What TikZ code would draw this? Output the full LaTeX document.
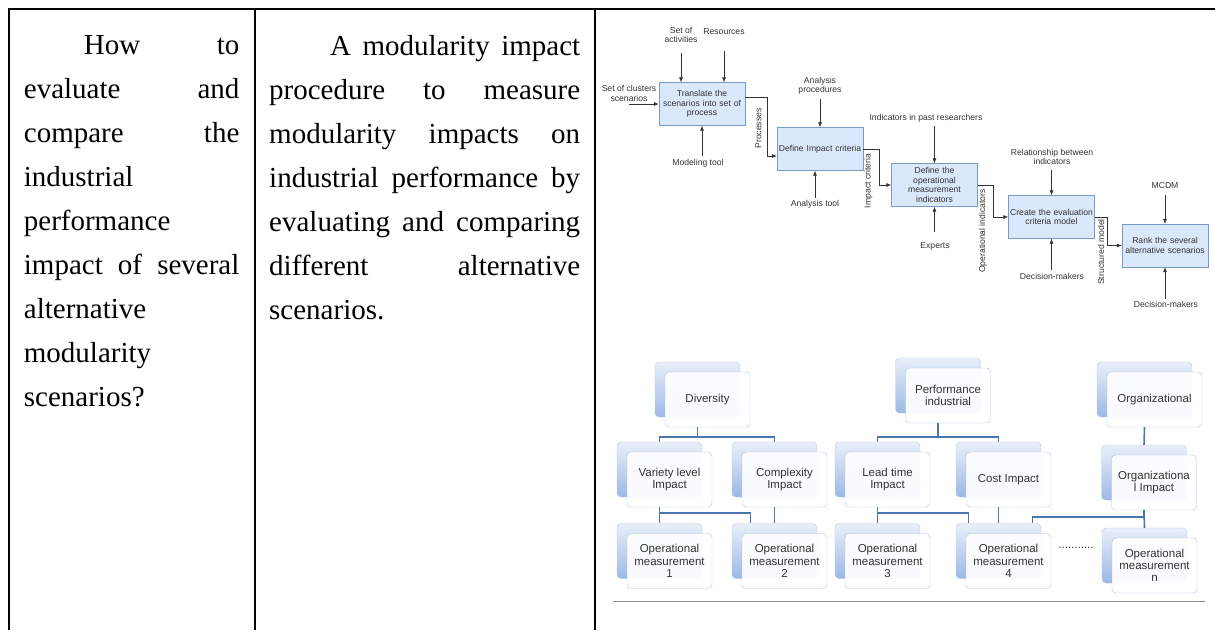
\documentclass[tikz,border=0pt]{standalone}
\usepackage{fontspec}
\setmainfont{Liberation Serif}
\newfontfamily\arialfont{Liberation Sans}
\usetikzlibrary{positioning,arrows.meta}

\definecolor{procfill}{HTML}{DAE8FC}
\definecolor{procline}{HTML}{7C99C6}
\definecolor{linkblue}{HTML}{4A76B0}
\definecolor{backtop}{HTML}{E9EFF9}
\definecolor{backbot}{HTML}{9CB8E6}
\definecolor{backline}{HTML}{B9C7DD}
\definecolor{frontline}{HTML}{A9C2E3}
\definecolor{txtgray}{HTML}{333333}

\newcommand{\tabfont}{\fontsize{29}{44}\selectfont}
\newcommand{\flowfont}{\arialfont\fontsize{8.6}{9.4}\selectfont}
\newcommand{\hierfont}{\arialfont\fontsize{11.5}{12.3}\selectfont}

\tikzset{
    cell/.style={anchor=north west, align=justify, inner sep=0pt, font=\tabfont},
    proc/.style={draw=procline, fill=procfill, minimum width=86pt, minimum height=43pt,
        text width=84pt, align=center, font=\flowfont, text=txtgray, inner sep=1pt},
    lbl/.style={font=\flowfont, text=txtgray, align=center, inner sep=1pt},
    flow/.style={->, draw=black!80, line width=0.6pt},
    backbox/.style={rounded corners=4pt, draw=backline, top color=backtop, bottom color=backbot,
        minimum width=85pt, minimum height=55pt},
    frontbox/.style={rounded corners=4pt, draw=frontline, fill=white, fill opacity=0.93,
        text opacity=1, minimum width=85pt, minimum height=55pt, align=center,
        font=\hierfont, text=txtgray, inner sep=2pt},
    link/.style={draw=linkblue, line width=1.6pt},
}

% box with its shadow box behind: name, x, y, text
\newcommand{\tierbox}[4]{%
    \node[backbox] (#1B) at (#2-10,#3-10) {};
    \node[frontbox] (#1) at (#2,#3) {#4};
}

\begin{document}
\begin{tikzpicture}[x=1pt, y=-1pt, >={Latex[length=5pt,width=4pt]}]
    \useasboundingbox (0,0) rectangle (1215,630);

    % Table frame
    \draw[line width=1.8pt] (8,9) -- (1215,9);
    \draw[line width=1.8pt] (9,8) -- (9,630);
    \draw[line width=1.8pt] (255,9) -- (255,630);
    \draw[line width=1.8pt] (595,9) -- (595,630);

    % Cells
    \node[cell, text width=215.5pt] (question) at (23.7,35) {\hyphenpenalty=10000\tolerance=10000%
        \hspace*{60pt}How to\linebreak evaluate and\linebreak compare the\linebreak industrial\\
        performance\\ impact of several\linebreak alternative\\ modularity\\ scenarios?};
    \node[cell, text width=311pt] (answer) at (269,35) {\hyphenpenalty=10000\tolerance=10000%
        \hspace*{61pt}A modularity impact\linebreak procedure to measure\linebreak
        modularity impacts on\linebreak industrial performance by\linebreak
        evaluating and comparing\linebreak different alternative\linebreak scenarios.};

    % Procedure steps
    \node[proc] (t1) at (702,104) {Translate the\\scenarios into set of\\process};
    \node[proc] (t2) at (820,149) {Define Impact criteria};
    \node[proc] (t3) at (934.5,185) {Define the operational\\measurement\\indicators};
    \node[proc] (t4) at (1051.5,217) {Create the evaluation\\criteria model};
    \node[proc] (t5) at (1165,245.5) {Rank the several\\alternative scenarios};

    % Controls
    \node[lbl] (act) at (681,35) {Set of\\activities};
    \node[lbl] (res) at (724,32) {Resources};
    \node[lbl] (ap) at (820,85.5) {Analysis\\procedures};
    \node[lbl] (ipr) at (926,118) {Indicators in past researchers};
    \node[lbl] (rbi) at (1052,157) {Relationship between\\indicators};
    \node[lbl] (mcdm) at (1165,186) {MCDM};
    \draw[flow, shorten <=9pt] (act.south) -- (act.south |- t1.north);
    \draw[flow, shorten <=15pt] (res.south) -- (res.south |- t1.north);
    \draw[flow, shorten <=4pt] (ap.south) -- (t2.north);
    \draw[flow, shorten <=3pt] (ipr.south -| t3.north) -- (t3.north);
    \draw[flow, shorten <=4pt] (rbi.south -| t4.north) -- (t4.north);
    \draw[flow, shorten <=5pt] (mcdm.south -| t5.north) -- (t5.north);

    % Inputs and mechanisms
    \node[lbl] (scs) at (629,93.5) {Set of clusters\\scenarios};
    \node[lbl] (mt) at (698,163) {Modeling tool};
    \node[lbl] (at) at (815,204) {Analysis tool};
    \node[lbl] (exp) at (935,246) {Experts};
    \node[lbl] (dm1) at (1052,276) {Decision-makers};
    \node[lbl] (dm2) at (1166,304.5) {Decision-makers};
    \draw[flow] (scs |- t1.west) -- (t1.west);
    \draw[flow, shorten <=2pt] (mt.north -| t1.south) -- (t1.south);
    \draw[flow, shorten <=1pt] (at.north) -- (at.north |- t2.south);
    \draw[flow, shorten <=9pt] (exp.north -| t3.south) -- (t3.south);
    \draw[flow, shorten <=2pt] (dm1.north -| t4.south) -- (t4.south);
    \draw[flow, shorten <=1pt] (dm2.north -| t5.south) -- (t5.south);

    % Outputs
    \draw[flow] ([yshift=7pt]t1.east) -- ++(22,0) |- ([yshift=-7pt]t2.west);
    \draw[flow] (t2.east) -- ++(16,0) |- (t3.west);
    \draw[flow] (t3.east) -- ++(16,0) |- (t4.west);
    \draw[flow] (t4.east) -- ++(13,0) |- (t5.west);
    \node[lbl, rotate=90] (lproc) at (758.5,128.5) {Processes};
    \node[lbl, rotate=90] (limp) at (868.5,181) {Impact criteria};
    \node[lbl, rotate=90] (lopi) at (983,231) {Operational indicators};
    \node[lbl, rotate=90] (lstr) at (1101,252) {Structured model};

    % Hierarchy of criteria
    \tierbox{div}{707.5}{399.5}{Diversity}
    \tierbox{perf}{948}{395.5}{Performance\\industrial}
    \tierbox{var}{669.5}{479.5}{Variety level\\Impact}
    \tierbox{cplx}{784.5}{479.5}{Complexity\\Impact}
    \tierbox{lead}{887.5}{479.5}{Lead time\\Impact}
    \tierbox{cost}{1008.5}{479.5}{Cost Impact}
    \tierbox{orgi}{1154}{482.5}{Organizationa\\l Impact}
    \tierbox{ma}{669.5}{561}{Operational\\measurement\\1}
    \tierbox{mb}{784.5}{561}{Operational\\measurement\\2}
    \tierbox{mc}{887.5}{561}{Operational\\measurement\\3}
    \tierbox{md}{1008.5}{561}{Operational\\measurement\\4}
    \tierbox{mn}{1154.5}{565.5}{Operational\\measurement\\n}
    \node[backbox, minimum width=95pt] (orgB) at (1144.5,389.5) {};
    \node[frontbox, minimum width=95pt] (org) at (1154.5,399.5) {Organizational};
    \node[font=\hierfont, text=txtgray, inner sep=0pt] (dots) at (1076,548) {...........};

    % Links
    \draw[link] (divB |- div.south) -- ++(0,10) -| (varB.north);
    \draw[link] (divB |- div.south) -- ++(0,10) -| (cplxB.north);
    \draw[link] (perfB |- perf.south) -- ++(0,14) -| (leadB.north);
    \draw[link] (perfB |- perf.south) -- ++(0,14) -| (costB.north);
    \draw[link] (varB |- var.south) -- (maB.north);
    \draw[link] (varB |- var.south) -- ++(0,6) -| ([xshift=-24pt]mbB.north);
    \draw[link] (cplxB |- cplx.south) -- (mbB.north);
    \draw[link] (leadB |- lead.south) -- (mcB.north);
    \draw[link] (leadB |- lead.south) -- ++(0,6) -| ([xshift=-30pt]mdB.north);
    \draw[link] (costB |- cost.south) -- (mdB.north);
    \draw[link] (orgB |- org.south) -- (orgiB.north);
    \draw[link] (orgiB |- orgi.south) -- (mnB.north);
    \draw[link] (orgiB |- orgi.south) -- ++(0,7) -| ([xshift=34pt]mdB.north);

    % Rule under the figure
    \draw[black!45, line width=1pt] (613,601) -- (1205,601);
\end{tikzpicture}
\end{document}
